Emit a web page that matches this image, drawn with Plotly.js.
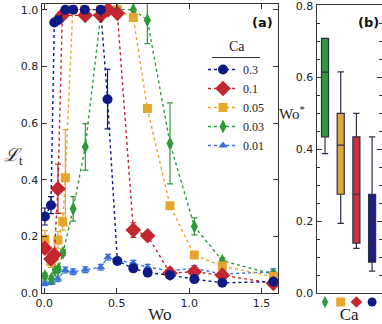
<!DOCTYPE html>
<html>
<head>
<meta charset="utf-8">
<script src="https://cdn.plot.ly/plotly-3.0.1.min.js"></script>
<style>html,body{margin:0;padding:0;background:#fff}#plot{width:382px;height:324px}</style>
</head>
<body>
<div id="plot"></div>
<script>
// ---- Panel (a) data ----
const caLabels = ["0.3", "0.1", "0.05", "0.03", "0.01"];

const x03 = [0.005, 0.047, 0.07, 0.095, 0.146, 0.2, 0.28, 0.39, 0.437, 0.505, 0.615, 0.714, 0.868, 1.036, 1.229, 1.581];
const y03 = [0.27, 0.31, 0.955, 0.963, 1.0, 1.0, 1.0, 1.0, 0.684, 0.113, 0.087, 0.072, 0.063, 0.049, 0.036, 0.04];
const e03 = [0.03, 0.03, 0, 0, 0, 0, 0, 0, 0.105, 0.01, 0.01, 0.01, 0.01, 0.01, 0.01, 0.01];

const x01 = [0.005, 0.047, 0.07, 0.095, 0.125, 0.283, 0.39, 0.442, 0.505, 0.615, 0.714, 0.868, 1.036, 1.229, 1.581];
const y01 = [0.158, 0.12, 0.135, 0.368, 0.98, 0.98, 0.98, 1.0, 0.987, 0.222, 0.202, 0.07, 0.075, 0.063, 0.034];
const e01 = [0.01, 0.015, 0.01, 0.087, 0.01, 0, 0, 0, 0, 0.026, 0.01, 0.015, 0.01, 0.01, 0.01];

const x005 = [0.005, 0.047, 0.07, 0.095, 0.128, 0.146, 0.197, 0.28, 0.39, 0.505, 0.615, 0.712, 0.868, 1.036, 1.229, 1.581];
const y005 = [0.19, 0.11, 0.13, 0.187, 0.252, 0.407, 1.0, 1.0, 1.0, 1.0, 0.972, 0.651, 0.308, 0.134, 0.095, 0.058];
const e005 = [0.03, 0.02, 0.02, 0.03, 0.03, 0.17, 0, 0, 0, 0, 0.01, 0.01, 0.01, 0.01, 0.01, 0.01];

const x003 = [0.005, 0.05, 0.075, 0.097, 0.13, 0.2, 0.284, 0.39, 0.505, 0.615, 0.712, 0.868, 1.036, 1.229, 1.581];
const y003 = [0.06, 0.05, 0.081, 0.084, 0.142, 0.297, 0.516, 0.98, 1.0, 1.0, 0.963, 0.528, 0.235, 0.114, 0.066];
const e003 = [0.01, 0.01, 0.01, 0.01, 0.01, 0.043, 0.082, 0, 0, 0, 0.083, 0.143, 0.03, 0.01, 0.01];

const x001 = [0.005, 0.05, 0.093, 0.146, 0.2, 0.284, 0.39, 0.44, 0.505, 0.615, 0.714, 0.868, 1.036, 1.229, 1.581];
const y001 = [0.034, 0.038, 0.05, 0.081, 0.075, 0.082, 0.091, 0.126, 0.115, 0.105, 0.091, 0.079, 0.087, 0.067, 0.075];
const e001 = [0.008, 0.008, 0.01, 0.01, 0.01, 0.01, 0.01, 0.01, 0.01, 0.01, 0.01, 0.01, 0.01, 0.01, 0.01];

// ---- Panel (b) data (box statistics of Wo*) ----
const boxPos = [0, 1, 2, 3];
const boxLower = [0.388, 0.194, 0.124, 0.061];
const boxQ1 = [0.435, 0.275, 0.139, 0.086];
const boxMedian = [0.615, 0.412, 0.275, 0.137];
const boxQ3 = [0.709, 0.50, 0.435, 0.275];
const boxUpper = [0.709, 0.616, 0.50, 0.435];

const cNavy = "#0d1a86", cRed = "#c3262e", cYel = "#e6a52c", cGrn = "#2f9a3a", cLB = "#3b6fdc";
const boxFill = [cGrn, "#e0a83a", "#c23540", "#1b2180"];
const boxSym = ["diamond-tall", "square", "diamond", "circle"];
const boxMk = [cGrn, cYel, cRed, cNavy];

const serif = "Liberation Serif, DejaVu Serif, serif";
const sans = "DejaVu Sans, sans-serif";

function series(x, y, e, name, color, symbol, size) {
  return {
    type: "scatter", mode: "lines+markers", x: x, y: y, name: name,
    xaxis: "x", yaxis: "y",
    line: {color: color, width: 1.4, dash: "dot"},
    marker: {color: color, symbol: symbol, size: size},
    error_y: {type: "data", array: e, visible: true, color: color, thickness: 1.2, width: 3}
  };
}

const traces = [
  series(x001, y001, e001, caLabels[4], cLB, "triangle-up", 8),
  series(x003, y003, e003, caLabels[3], cGrn, "diamond-tall", 10),
  series(x005, y005, e005, caLabels[2], cYel, "square", 9),
  series(x01, y01, e01, caLabels[1], cRed, "diamond", 12),
  series(x03, y03, e03, caLabels[0], cNavy, "circle", 10)
];

for (let i = 0; i < boxPos.length; i++) {
  traces.push({
    type: "box", xaxis: "x2", yaxis: "y2", showlegend: false,
    x: [boxPos[i]], q1: [boxQ1[i]], median: [boxMedian[i]], q3: [boxQ3[i]],
    lowerfence: [boxLower[i]], upperfence: [boxUpper[i]],
    width: 0.45, whiskerwidth: 0.9,
    fillcolor: boxFill[i], line: {color: "#2b2d4a", width: 1.2},
    hoverinfo: "skip"
  });
}
// category marker row under panel (b)
traces.push({
  type: "scatter", mode: "markers", xaxis: "x3", yaxis: "y3", showlegend: false,
  x: boxPos, y: boxPos.map(() => 0),
  marker: {symbol: boxSym, color: boxMk, size: 9, opacity: 1, line: {width: 0}},
  hoverinfo: "skip"
});

const W = 382, H = 324;
const px = v => v / W, py = v => 1 - v / H;

const axisCommon = {
  showline: true, linecolor: "#333", linewidth: 1.2, mirror: "ticks",
  ticks: "inside", ticklen: 5, tickcolor: "#333", showgrid: false, zeroline: false,
  ticklabeloverflow: "allow",
  tickfont: {family: sans, size: 11, color: "#222"}
};

const layout = {
  width: W, height: H, margin: {l: 0, r: 0, t: 0, b: 0},
  paper_bgcolor: "#fff", plot_bgcolor: "#fff", showlegend: true,
  xaxis: Object.assign({}, axisCommon, {
    domain: [px(41.7), px(278)], range: [-0.017, 1.613], tickvals: [0, 0.5, 1.0, 1.5],
    tickformat: ".1f", anchor: "y",
    title: {text: "Wo", font: {family: serif, size: 17, color: "#222"}, standoff: 4}
  }),
  yaxis: Object.assign({}, axisCommon, {
    domain: [py(293), py(4)], range: [0, 1.02], dtick: 0.2, tick0: 0, tickformat: ".1f", anchor: "x"
  }),
  xaxis2: Object.assign({}, axisCommon, {
    domain: [px(316.7), px(381.5)], range: [-0.53, 3.6], showticklabels: false, ticks: "",
    anchor: "y2",
    title: {text: "Ca", font: {family: serif, size: 17, color: "#222"}, standoff: 16}
  }),
  yaxis2: Object.assign({}, axisCommon, {
    domain: [py(293), py(5)], range: [0, 0.802], dtick: 0.2, tick0: 0, tickformat: ".1f", anchor: "x2",
    minor: {dtick: 0.05, ticks: "inside", ticklen: 3, tickcolor: "#333"}
  }),
  xaxis3: {
    domain: [px(316.7), px(381.5)], range: [-0.53, 3.6], visible: false, anchor: "y3", fixedrange: true
  },
  yaxis3: {
    domain: [py(310), py(294)], range: [-1, 1], visible: false, anchor: "x3", fixedrange: true
  },
  legend: {
    x: px(203), y: py(55), xanchor: "left", yanchor: "top", traceorder: "reversed",
    bgcolor: "rgba(0,0,0,0)", borderwidth: 0,
    font: {family: serif, size: 12, color: "#222"},
    itemwidth: 30
  },
  shapes: [
    {type: "line", xref: "paper", yref: "paper", x0: px(212), x1: px(260), y0: py(57.5), y1: py(57.5),
     line: {color: "#333", width: 1.2}}
  ],
  annotations: [
    {text: "Ca", xref: "paper", yref: "paper", x: px(237), y: py(47), xanchor: "center", yanchor: "middle",
     showarrow: false, font: {family: serif, size: 14, color: "#222"}},
    {text: "(a)", xref: "paper", yref: "paper", x: px(262), y: py(23), xanchor: "center", yanchor: "middle",
     showarrow: false, font: {family: sans, size: 13, color: "#111", weight: "bold"}},
    {text: "(b)", xref: "paper", yref: "paper", x: px(368), y: py(23), xanchor: "center", yanchor: "middle",
     showarrow: false, font: {family: sans, size: 13, color: "#111", weight: "bold"}},
    {text: "<i>ℒ</i><sub>t</sub>", xref: "paper", yref: "paper", x: px(13), y: py(157), xanchor: "center", yanchor: "middle",
     showarrow: false, font: {family: serif, size: 18, color: "#222"}},
    {text: "Wo<sup>*</sup>", xref: "paper", yref: "paper", x: px(292), y: py(113), xanchor: "center", yanchor: "middle",
     showarrow: false, font: {family: serif, size: 15, color: "#222"}}
  ]
};

Plotly.newPlot("plot", traces, layout, {displayModeBar: false, staticPlot: true});
</script>
</body>
</html>
